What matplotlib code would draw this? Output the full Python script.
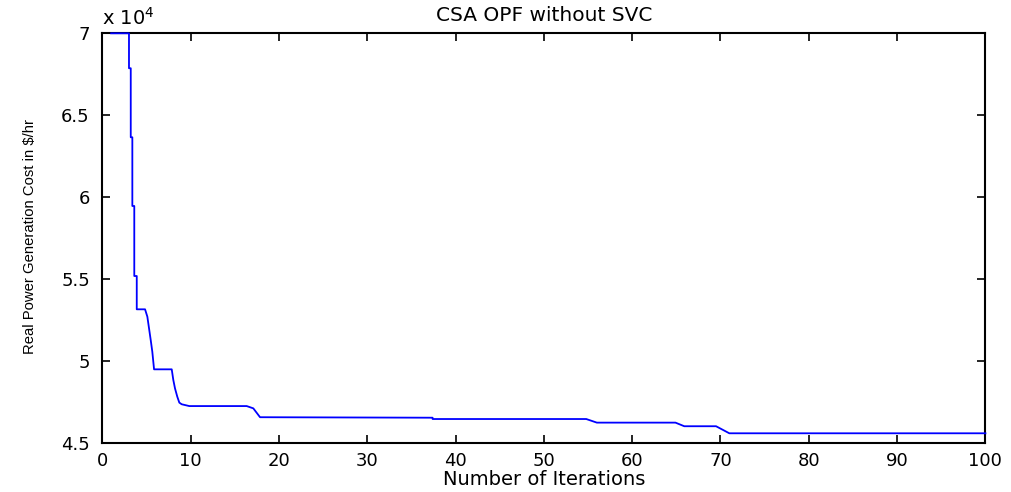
import matplotlib
matplotlib.use("Agg")
import matplotlib.pyplot as plt

plt.rcParams['font.family'] = ['DejaVu Sans']

# Convergence curve (cost in units of 1e4 $/hr)
iterations = [1, 3.02, 3.02, 3.22, 3.22, 3.40, 3.40, 3.62, 3.62, 3.90, 3.90,
              4.84, 5.10, 5.29, 5.48, 5.66, 5.86,
              7.86, 8.04, 8.23, 8.49, 8.72, 8.99, 9.85,
              16.35, 17.10, 17.86,
              37.4, 37.4, 54.8, 56.0, 64.9, 65.9, 69.5, 71.0, 100]
cost = [7.0, 7.0, 6.787, 6.787, 6.366, 6.366, 5.947, 5.947, 5.52, 5.52, 5.317,
        5.317, 5.272, 5.201, 5.13, 5.059, 4.951,
        4.951, 4.886, 4.835, 4.784, 4.748, 4.738, 4.727,
        4.727, 4.713, 4.659,
        4.656, 4.648, 4.648, 4.626, 4.626, 4.604, 4.604, 4.561, 4.561]

xticks = list(range(0, 101, 10))
yticks = [4.5, 5, 5.5, 6, 6.5, 7]
ytick_labels = ['4.5', '5', '5.5', '6', '6.5', '7']

fig = plt.figure(figsize=(10.11, 4.92), dpi=100)
ax = fig.add_axes([0.1012, 0.099, 0.8735, 0.8333])
ax.plot(iterations, [c * 1e4 for c in cost], color='#0000ff', linewidth=1.3,
        clip_on=False, zorder=3)

ax.set_xlim(0, 100)
ax.set_ylim(4.5e4, 7e4)
ax.set_xticks(xticks)
ax.set_xticklabels([str(t) for t in xticks])
ax.set_yticks([t * 1e4 for t in yticks])
ax.set_yticklabels(ytick_labels)
ax.tick_params(direction='in', length=6, width=1.2, labelsize=13, top=True, right=True,
               colors='black')
ax.tick_params(axis='x', pad=6)
ax.tick_params(axis='y', pad=9)
for s in ax.spines.values():
    s.set_linewidth(1.5)
    s.set_zorder(2.5)

ax.text(0.0, 1.012, r'x 10$^{4}$', transform=ax.transAxes, fontsize=14,
        ha='left', va='bottom')
ax.set_title('CSA OPF without SVC', fontsize=14.5, pad=9)
ax.set_xlabel('Number of Iterations', fontsize=14, va='top')
ax.xaxis.set_label_coords(0.5, -0.064)
ax.set_ylabel('Real Power Generation Cost in $/hr', fontsize=10.7,
              family='Liberation Sans')
ax.yaxis.set_label_coords(-0.074, 0.504)

fig.savefig('out.png', dpi=100)
